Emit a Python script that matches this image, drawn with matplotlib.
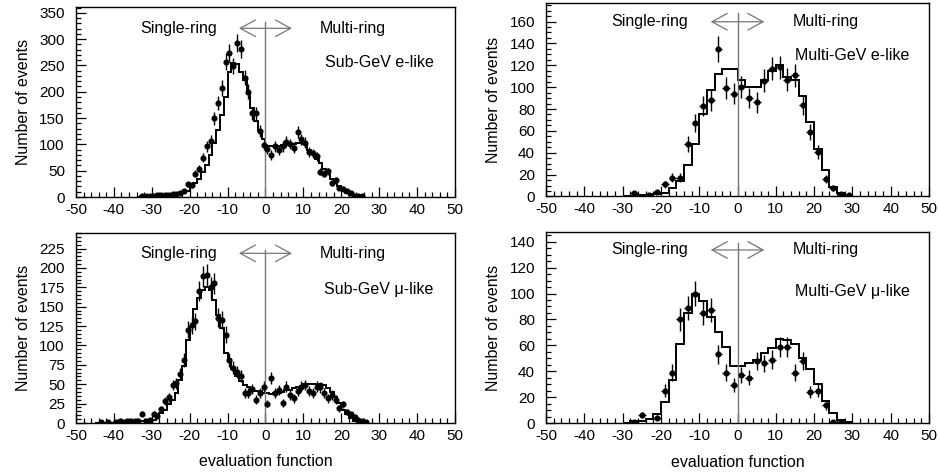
import numpy as np
import matplotlib
matplotlib.use('Agg')
import matplotlib.pyplot as plt
from matplotlib.ticker import MultipleLocator
import matplotlib.transforms as mtrans

plt.rcParams['font.family'] = ['Liberation Sans', 'DejaVu Sans']

# ---------------- data ----------------
# Sub-GeV e-like : 1-unit bins, first bin centre -33.5
sube_start = -34
sube_width = 1
sube_data = [0, 1, 1, 2, 2, 3, 3, 4, 4, 5,
             6, 7, 11, 24, 22, 44, 54, 75, 96, 107,
             150, 178, 207, 257, 274, 249, 292, 281, 227, 200,
             159, 159, 126, 99, 92, 80, 96, 89, 96, 105,
             101, 94, 123, 110, 103, 86, 83, 77, 48, 44,
             49, 27, 32, 18, 16, 12, 7, 2, 1, 1]
sube_mc = [0.5, 1, 1, 1.5, 2, 2, 3, 3, 4, 5,
           6, 7, 9, 12, 20, 27, 35, 48, 61, 80,
           102, 127, 156, 190, 238, 254, 252, 238, 222, 195,
           170, 145, 125, 110, 96, 96, 96, 97, 98, 99,
           100, 101, 103, 103, 101, 89, 82, 73, 64, 54,
           45, 35, 27, 20, 13, 8, 4, 2, 1, 0.5]

# Multi-GeV e-like : 2-unit bins, first bin centre -29
mge_start = -30
mge_width = 2
mge_data = [0, 3, 0, 1, 4, 11, 17, 17, 48, 67,
            83, 88, 135, 99, 94, 100, 90, 86, 106, 117,
            118, 107, 111, 84, 59, 41, 16, 8, 2, 1]
mge_mc = [0.5, 0.5, 1, 1.5, 2, 3.5, 8, 14, 29, 48,
          75, 97, 112, 117, 117, 107, 100, 100, 107, 115,
          120, 109, 107, 92, 68, 43, 24, 9, 3.5, 1]

# Sub-GeV mu-like : 1-unit bins, first bin centre -44.5
submu_start = -45
submu_width = 1
submu_data = [0, 1, 0, 1, 0, 1, 2, 1, 2, 2,
              3, 3, 12, 3, 4, 12, 9, 18, 28, 33,
              49, 51, 63, 81, 120, 126, 131, 170, 189, 191,
              175, 180, 136, 133, 114, 81, 71, 66, 61, 39,
              39, 44, 30, 39, 47, 25, 58, 39, 42, 26,
              47, 36, 32, 41, 47, 49, 41, 39, 47, 46,
              39, 32, 36, 30, 19, 24, 14, 11, 8, 4,
              2, 1]
submu_mc = [0.5, 0.5, 0.5, 0.5, 0.5, 0.7, 0.8, 1, 1, 1.2,
            1.5, 1.5, 2, 2.5, 3, 4, 9, 13, 17, 25,
            30, 39, 55, 73, 107, 124, 147, 161, 172, 175,
            172, 159, 139, 122, 90, 81, 69, 60, 54, 49,
            46, 43, 41, 41, 39, 39, 38, 39, 39, 40,
            42, 43, 45, 46, 48, 50, 50, 50, 50, 50,
            49, 45, 40, 33, 26, 17, 11, 6, 3, 2,
            1, 0.5]

# Multi-GeV mu-like : 2-unit bins, first bin centre -29
mgmu_start = -30
mgmu_width = 2
mgmu_data = [0, 1, 6, 0, 4, 25, 39, 80, 89, 100,
             85, 87, 53, 39, 29, 37, 35, 48, 46, 49,
             59, 59, 39, 48, 24, 25, 14, 1, 1, 0]
mgmu_mc = [0.3, 1.3, 1.3, 3, 7, 16, 33, 61, 85, 100,
           94, 82, 70, 59, 44, 44, 46, 49, 54, 58,
           65, 64, 61, 50, 42, 30, 17, 8, 2.6, 0.5]

x_ticks_major = 10
x_ticks_minor = 2

panels = [
    dict(rect=[0.0809, 0.5835, 0.4036, 0.4017], start=sube_start, width=sube_width,
         data=sube_data, mc=sube_mc, ymax=361, ymaj=50, ymin=10,
         label='Sub-GeV e-like', ay=0.888, vtop=0.923, ly=0.71, xlabel=False),
    dict(rect=[0.5815, 0.5846, 0.4079, 0.4091], start=mge_start, width=mge_width,
         data=mge_data, mc=mge_mc, ymax=177, ymaj=20, ymin=5,
         label='Multi-GeV e-like', ay=0.903, vtop=0.947, ly=0.73, xlabel=False),
    dict(rect=[0.0809, 0.1057, 0.4036, 0.4017], start=submu_start, width=submu_width,
         data=submu_data, mc=submu_mc, ymax=245, ymaj=25, ymin=5,
         label='Sub-GeV \u03bc-like', ay=0.893, vtop=0.91, ly=0.705, xlabel=True),
    dict(rect=[0.5815, 0.1057, 0.4079, 0.4038], start=mgmu_start, width=mgmu_width,
         data=mgmu_data, mc=mgmu_mc, ymax=147.5, ymaj=20, ymin=5,
         label='Multi-GeV \u03bc-like', ay=0.906, vtop=0.942, ly=0.687, xlabel=True),
]

fig = plt.figure(figsize=(9.39, 4.73), dpi=100)

for p in panels:
    ax = fig.add_axes(p['rect'])
    data = np.asarray(p['data'], dtype=float)
    mc = np.asarray(p['mc'], dtype=float)
    n = len(data)
    edges = p['start'] + p['width'] * np.arange(n + 1)
    centers = 0.5 * (edges[:-1] + edges[1:])

    ax.stairs(mc, edges, baseline=0, color='black', lw=1.4)
    m = data > 0
    ax.errorbar(centers[m], data[m], yerr=np.sqrt(data[m]), xerr=p['width'] / 2,
                fmt='o', ms=3.4, color='black', ecolor='black', elinewidth=1.0,
                capsize=0)

    ax.set_xlim(-50, 50)
    ax.set_ylim(0, p['ymax'])
    ax.xaxis.set_major_locator(MultipleLocator(x_ticks_major))
    ax.xaxis.set_minor_locator(MultipleLocator(x_ticks_minor))
    ax.yaxis.set_major_locator(MultipleLocator(p['ymaj']))
    ax.yaxis.set_minor_locator(MultipleLocator(p['ymin']))
    ax.tick_params(which='both', direction='in', top=False, right=False,
                   labelsize=11, width=0.9)
    ax.tick_params(which='major', length=7)
    ax.tick_params(which='minor', length=3.5)
    ax.tick_params(axis='y', pad=8)
    ax.tick_params(axis='x', pad=4)
    ax.xaxis.set_major_formatter(matplotlib.ticker.FuncFormatter(lambda v, pos: '%d' % v))
    for s in ax.spines.values():
        s.set_linewidth(1.0)

    trans = mtrans.blended_transform_factory(ax.transData, ax.transAxes)
    ax.plot([0, 0], [0, p['vtop']], transform=trans, color='#777777', lw=1.0)
    ax.annotate('', xy=(-7, p['ay']), xytext=(7, p['ay']), xycoords=trans,
                textcoords=trans,
                arrowprops=dict(arrowstyle='<->,head_length=0.55,head_width=0.3',
                                color='#777777', lw=0.9, shrinkA=0, shrinkB=0,
                                mutation_scale=20))
    ax.text(-23, p['ay'], 'Single-ring', transform=trans, ha='center', va='center',
            fontsize=11.5)
    ax.text(23, p['ay'], 'Multi-ring', transform=trans, ha='center', va='center',
            fontsize=11.5)
    ax.text(30, p['ly'], p['label'], transform=trans, ha='center', va='center',
            fontsize=11.5)

    ax.set_ylabel('Number of events', fontsize=11.5)
    ax.yaxis.set_label_coords(-0.118, 0.5)
    if p['xlabel']:
        ax.set_xlabel('evaluation function', fontsize=11.5)
        ax.xaxis.set_label_coords(0.5, -0.165)

fig.savefig('out.png', dpi=100)
